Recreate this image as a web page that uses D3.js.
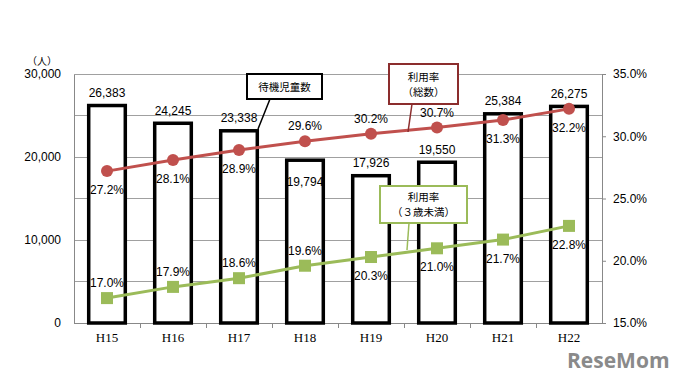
<!DOCTYPE html>
<html><head><meta charset="utf-8">
<script src="https://cdn.jsdelivr.net/npm/d3@7/dist/d3.min.js"></script>
<style>body{margin:0;background:#fff}svg{display:block;font-family:"Liberation Sans","DejaVu Sans",sans-serif}</style>
</head><body><svg id="c" width="678" height="379"></svg>
<script>
const categories = ["H15","H16","H17","H18","H19","H20","H21","H22"];
const waitingChildren = [26383,24245,23338,19794,17926,19550,25384,26275];
const rateTotal = [27.2,28.1,28.9,29.6,30.2,30.7,31.3,32.2];
const rateUnder3 = [17.0,17.9,18.6,19.6,20.3,21.0,21.7,22.8];
const leftTicks = [0,10000,20000,30000];
const rightTicks = [15,20,25,30,35];
// label placement: 1 = above, -1 = below / inside
const barLabelPos = [1,1,1,-1,1,1,1,1];
const totalLabelPos = [-1,-1,-1,1,1,1,-1,-1];
const under3LabelPos = [1,1,1,1,-1,-1,-1,-1];

const svg = d3.select("#c");
const L=74,R=602,T=74,B=323;
const x = d3.scaleBand().domain(categories).range([L,R]).paddingInner(0.4).paddingOuter(0.2);
const xc = d => x(d)+x.bandwidth()/2;
const yL = d3.scaleLinear().domain([0,30000]).range([B,T]);
const yR = d3.scaleLinear().domain([15,35]).range([B,T]);
const CJK = "'Noto Sans CJK JP',sans-serif";

svg.append("g").selectAll("line").data(d3.range(5000,30001,5000)).join("line")
  .attr("x1",L).attr("x2",R).attr("y1",d=>yL(d)).attr("y2",d=>yL(d))
  .attr("stroke","#a0a0a0").attr("stroke-width",1).attr("shape-rendering","crispEdges");

const gl = svg.append("g").attr("transform",`translate(${L},0)`)
  .call(d3.axisLeft(yL).tickValues(leftTicks).tickFormat(d3.format(",")).tickSize(0).tickPadding(13));
gl.attr("font-family",null);
gl.select(".domain").attr("stroke","#888").attr("shape-rendering","crispEdges");
gl.selectAll("text").attr("font-size",12).attr("fill","#000");
svg.append("text").attr("x",42).attr("y",65).attr("text-anchor","middle").attr("font-size",10).style("font-family",CJK).text("（人）");

const gr = svg.append("g").attr("transform",`translate(${R},0)`)
  .call(d3.axisRight(yR).tickValues(rightTicks).tickFormat(d=>d.toFixed(1)+"%").tickSize(4).tickPadding(7));
gr.attr("font-family",null);
gr.select(".domain").attr("stroke","#888").attr("shape-rendering","crispEdges");
gr.selectAll("line").attr("stroke","#888");
gr.selectAll("text").attr("font-size",12).attr("fill","#000");

const gb = svg.append("g").attr("transform",`translate(0,${B})`)
  .call(d3.axisBottom(x).tickSize(0).tickPadding(10));
gb.select(".domain").attr("stroke","#888").attr("shape-rendering","crispEdges");
gb.selectAll("text").attr("font-size",13).attr("fill","#000").style("font-family","'Liberation Serif','DejaVu Serif',serif");
const step = x.step();
svg.append("g").selectAll("line").data(categories.slice(1)).join("line")
  .attr("x1",d=>x(d)-step*0.2).attr("x2",d=>x(d)-step*0.2).attr("y1",B).attr("y2",B+5)
  .attr("stroke","#888").attr("shape-rendering","crispEdges");

svg.append("g").selectAll("rect").data(categories).join("rect")
  .attr("x",d=>x(d)+1.5).attr("width",x.bandwidth()-3)
  .attr("y",(d,i)=>yL(waitingChildren[i])+1.5).attr("height",(d,i)=>B-yL(waitingChildren[i])-1.5)
  .attr("fill","#fff").attr("stroke","#000").attr("stroke-width",3.5);

svg.append("g").selectAll("text").data(categories).join("text")
  .attr("x",d=>xc(d)).attr("y",(d,i)=>yL(waitingChildren[i])+(barLabelPos[i]>0?-7:27))
  .attr("text-anchor","middle").attr("font-size",12).text((d,i)=>d3.format(",")(waitingChildren[i]));

function series(vals,color,shape,pos){
  const line = d3.line().x((d,i)=>xc(categories[i])).y(d=>yR(d));
  svg.append("path").datum(vals).attr("d",line).attr("fill","none").attr("stroke",color).attr("stroke-width",3);
  const g = svg.append("g");
  if(shape==="circle"){
    g.selectAll("circle").data(vals).join("circle").attr("cx",(d,i)=>xc(categories[i])).attr("cy",d=>yR(d)).attr("r",6).attr("fill",color);
  } else {
    g.selectAll("rect").data(vals).join("rect").attr("x",(d,i)=>xc(categories[i])-6).attr("y",d=>yR(d)-6).attr("width",12).attr("height",12).attr("fill",color);
  }
  svg.append("g").selectAll("text").data(vals).join("text")
    .attr("x",(d,i)=>xc(categories[i])).attr("y",(d,i)=>yR(d)+(pos[i]>0?-11:23))
    .attr("text-anchor","middle").attr("font-size",12).text(d=>d.toFixed(1)+"%");
}
series(rateTotal,"#c0504d","circle",totalLabelPos);
series(rateUnder3,"#9bbb59","square",under3LabelPos);

function callout(x0,y0,w,h,lines,color,lx1,ly1,lx2,ly2){
  svg.append("line").attr("x1",lx1).attr("y1",ly1).attr("x2",lx2).attr("y2",ly2).attr("stroke",color).attr("stroke-width",1.5);
  svg.append("rect").attr("x",x0).attr("y",y0).attr("width",w).attr("height",h).attr("fill","#fff").attr("stroke",color).attr("stroke-width",2);
  lines.forEach((t,k)=>{
    svg.append("text").attr("x",x0+w/2).attr("y",y0+h/2+4+(k-(lines.length-1)/2)*15)
      .attr("text-anchor","middle").attr("font-size",10.5).style("font-family",CJK).text(t);
  });
}
callout(247,74,75,25,["待機児童数"],"#000",270,99,258,129);
callout(389,64,69,40,["利用率","（総数）"],"#8b2d2d",412,104,408,132);
callout(380,186,87,37,["利用率","（３歳未満）"],"#9bbb59",409,223,407,250);

svg.append("text").attr("x",567).attr("y",368).attr("font-size",21).attr("font-weight","bold").attr("fill","#8a8a8a").style("font-family","'Open Sans',sans-serif").text("ReseMom");
</script></body></html>
